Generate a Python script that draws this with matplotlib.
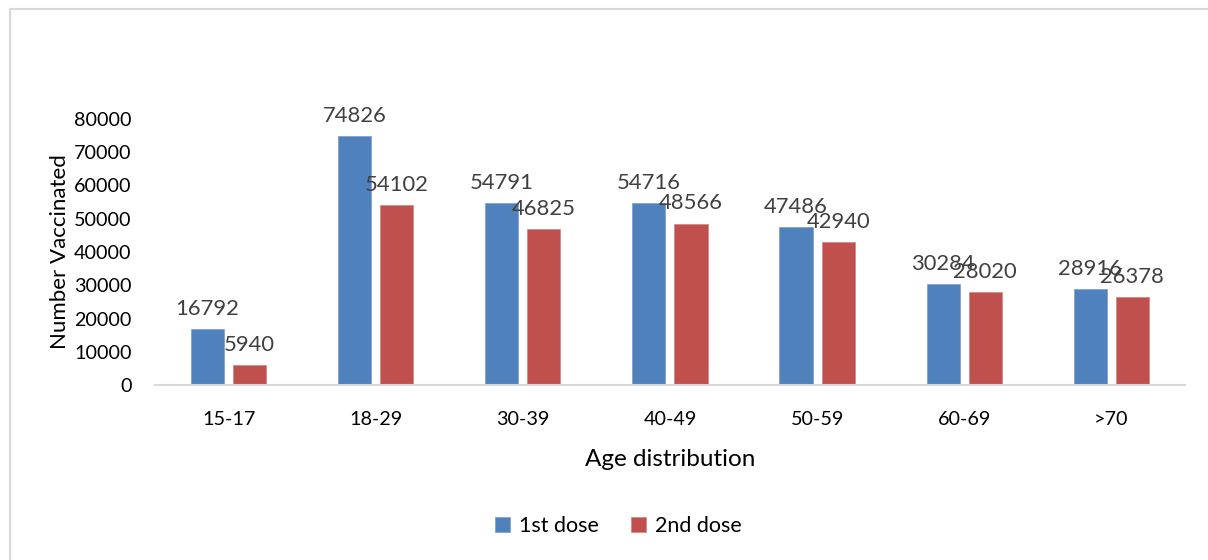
import numpy as np
import matplotlib.pyplot as plt
from matplotlib.patches import Rectangle

# Vaccination counts by age group
age_groups = ['15-17', '18-29', '30-39', '40-49', '50-59', '60-69', '>70']
first_dose = [16792, 74826, 54791, 54716, 47486, 30284, 28916]
second_dose = [5940, 54102, 46825, 48566, 42940, 28020, 26378]

blue = '#4F81BD'
red = '#C0504D'

plt.rcParams['font.family'] = ['Lato', 'DejaVu Sans']

fig = plt.figure(figsize=(12.08, 5.6), dpi=100)
fig.patches.append(Rectangle((10 / 1208, -0.1), 1.1, 1 - 9 / 560 + 0.1,
                             transform=fig.transFigure, fill=False,
                             edgecolor='#D9D9D9', linewidth=1.5))

ax = fig.add_axes([0.1283, 0.3125, 0.8526, 0.475])

x = np.arange(len(age_groups))
w = 0.225
off = 0.143
b1 = ax.bar(x - off, first_dose, w, color=blue, edgecolor='#7FA3D1', linewidth=0.6,
            label='1st dose')
b2 = ax.bar(x + off, second_dose, w, color=red, edgecolor='#D58886', linewidth=0.6,
            label='2nd dose')

for bars, vals in ((b1, first_dose), (b2, second_dose)):
    for bar, v in zip(bars, vals):
        ax.annotate(str(v), (bar.get_x() + bar.get_width() / 2, v),
                    xytext=(0, 14.5), textcoords='offset points',
                    ha='center', va='center', fontsize=15.8, color='#404040',
                    annotation_clip=False)

ax.set_xlim(-0.5, len(age_groups) - 0.5)
ax.set_ylim(0, 80000)
ax.set_yticks(range(0, 80001, 10000))
ax.set_xticks(x)
ax.set_xticklabels(age_groups)
ax.tick_params(axis='both', length=0, labelsize=14.2, colors='black')
ax.tick_params(axis='x', pad=19)
ax.tick_params(axis='y', pad=17)

for side in ('top', 'right', 'left'):
    ax.spines[side].set_visible(False)
ax.spines['bottom'].set_color('#D9D9D9')
ax.spines['bottom'].set_linewidth(1.5)

ax.set_xlabel('Age distribution', fontsize=17.5, labelpad=15)
ax.set_ylabel('Number Vaccinated', fontsize=16, labelpad=3)

fig.legend(handles=[b1, b2], loc='center', bbox_to_anchor=(0.512, 0.06),
           ncol=2, frameon=False, fontsize=15.5, handlelength=0.7,
           handleheight=0.7, handletextpad=0.4, columnspacing=1.5)

fig.savefig('out.png', dpi=100)
